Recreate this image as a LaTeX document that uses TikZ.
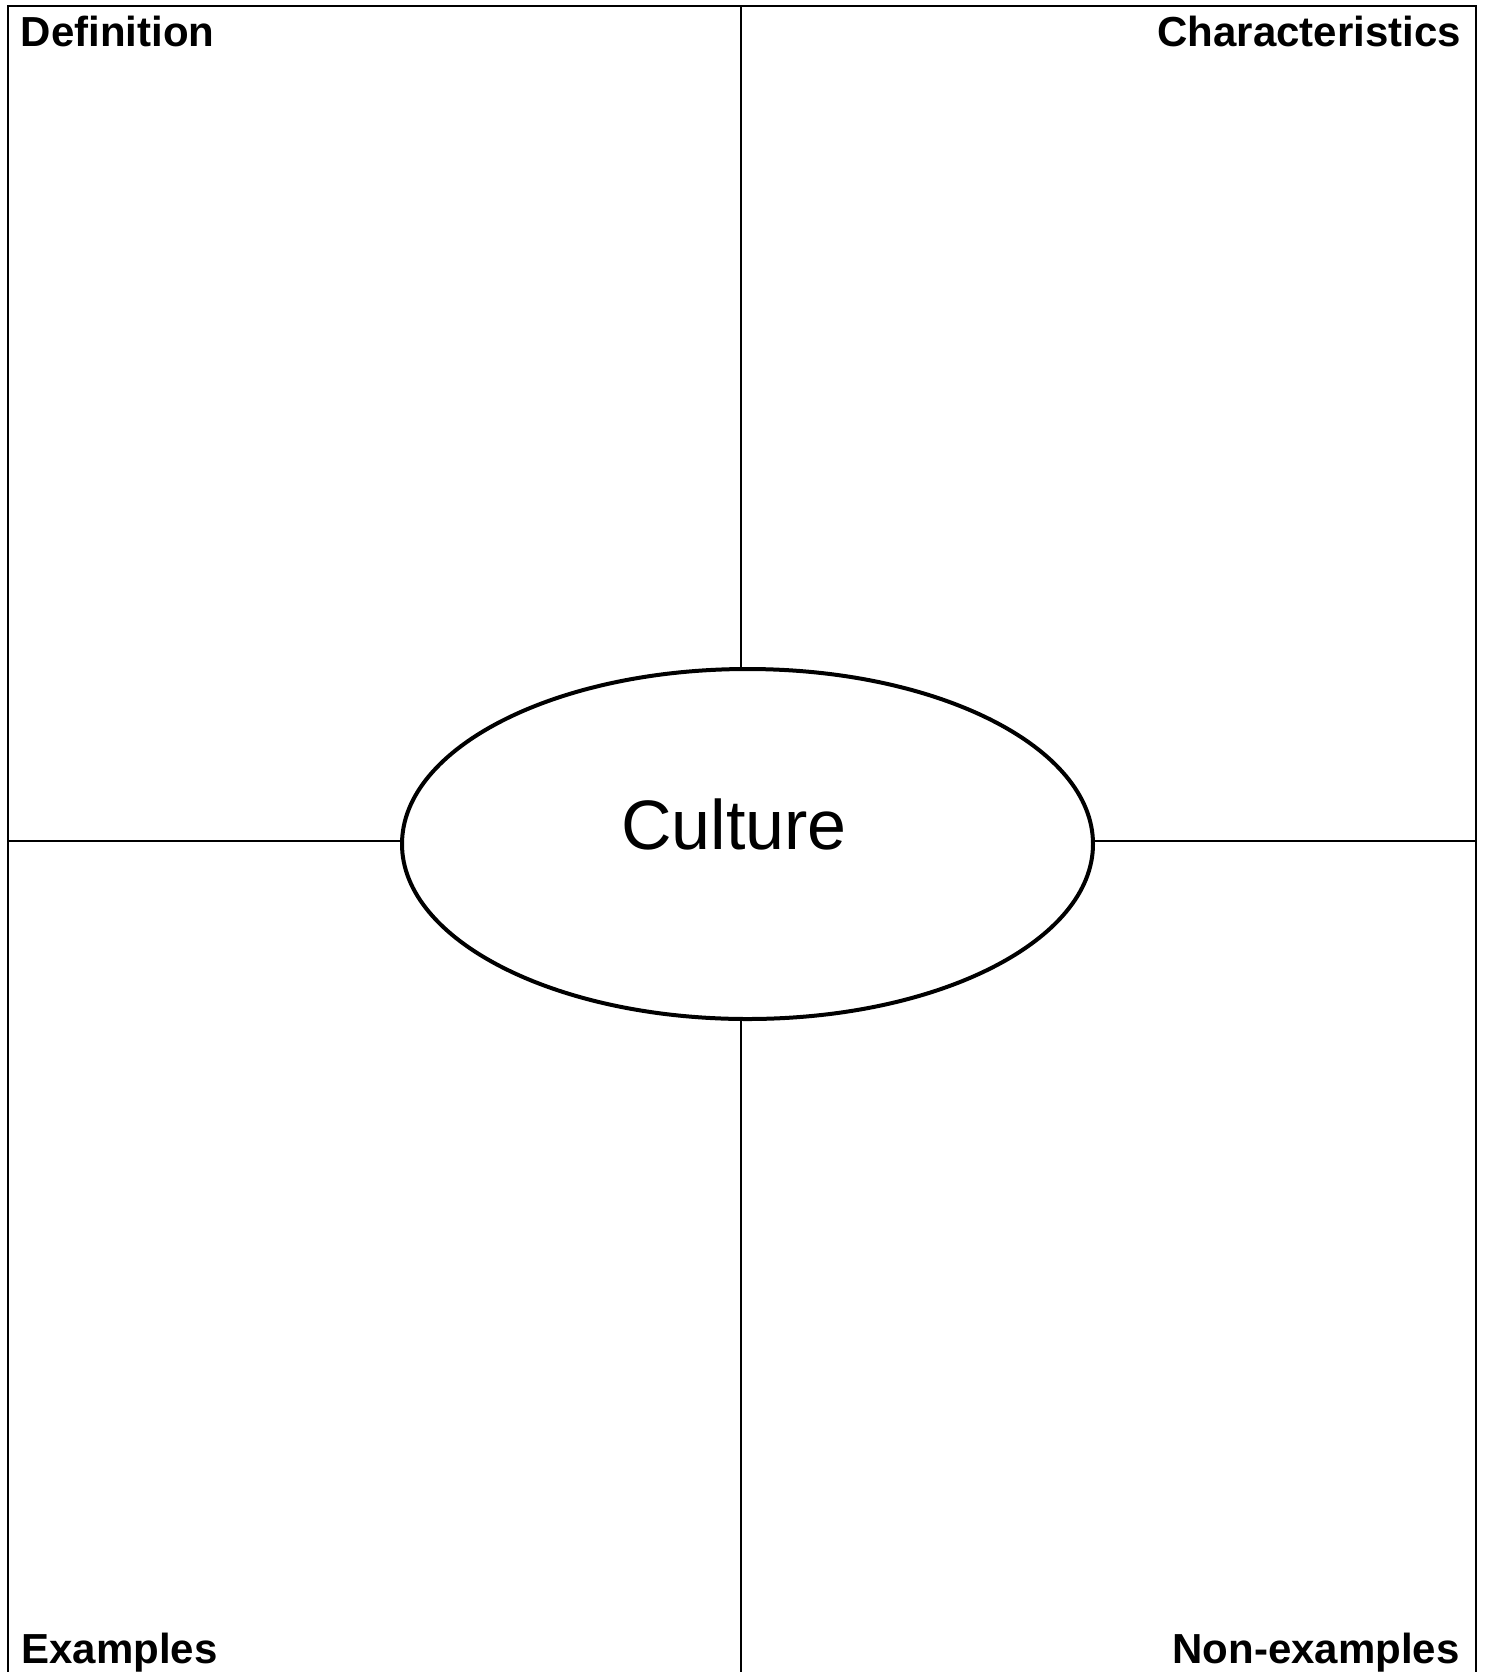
\documentclass[tikz,border=0pt]{standalone}
\usepackage{fontspec}
\setmainfont{Liberation Sans}
\usetikzlibrary{shapes.geometric, positioning}

\begin{document}
\begin{tikzpicture}[x=0.5pt, y=-0.5pt,
    rule/.style={line width=1pt},
    hub/.style={ellipse, draw, line width=2pt, minimum width=345.5pt, minimum height=175pt, inner sep=0pt, outer sep=0pt},
    corner/.style={font=\bfseries\fontsize{21}{24}\selectfont, inner sep=0pt},
    title/.style={font=\fontsize{35}{40}\selectfont, inner sep=0pt}
]
\useasboundingbox (0,0) rectangle (1488,1672);

% outer frame
\coordinate (bl) at (8,1672);
\coordinate (tl) at (8,6);
\coordinate (tr) at (1476,6);
\coordinate (br) at (1476,1672);
\draw[rule] (bl) -- (tl) -- (tr) -- (br);

% centre
\node[hub] (culture) at (747.5,844) {};
\node[title, anchor=base] (word) at (734,849) {Culture};

% quadrant dividers
\coordinate (midtop) at (741,6);
\coordinate (midbot) at (741,1672);
\coordinate (midleft) at (8,840.5);
\coordinate (midright) at (1476,840.5);
\draw[rule] (midtop) -- (midtop |- culture.north);
\draw[rule] (midbot) -- (midbot |- culture.south);
\draw[rule] (midleft) -- (midleft -| culture.west);
\draw[rule] (midright) -- (midright -| culture.east);

% corner labels
\node[corner, anchor=base west] (defn) at (20.5,46) {Definition};
\node[corner, anchor=base east] (chars) at (1461.5,46) {Characteristics};
\node[corner, anchor=base west] (ex) at (21,1663) {Examples};
\node[corner, anchor=base east] (nonex) at (1460,1663) {Non-examples};
\end{tikzpicture}
\end{document}
